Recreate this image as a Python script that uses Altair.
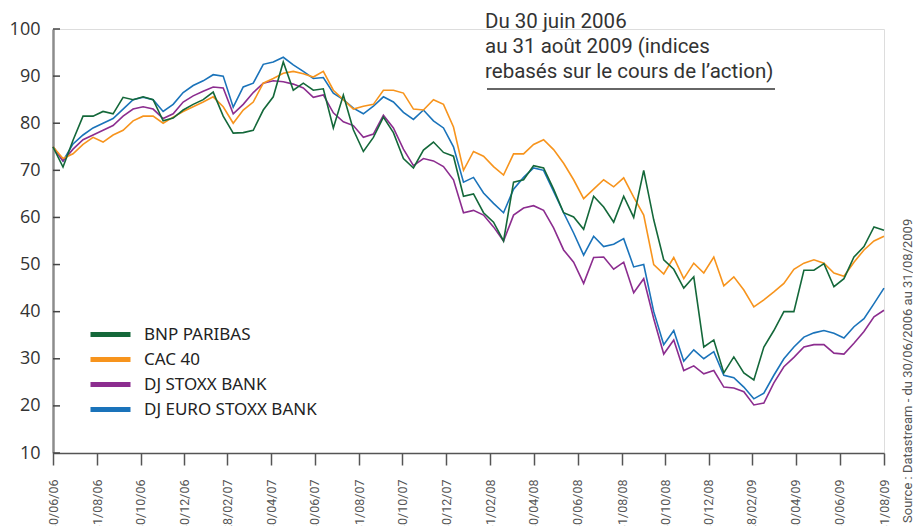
import altair as alt
import pandas as pd

series_names = ["BNP PARIBAS", "CAC 40", "DJ STOXX BANK", "DJ EURO STOXX BANK"]
series_colors = ["#14683a", "#f7941d", "#8c2d8f", "#1a73ba"]

bnp = [75, 70.7, 76.4, 81.5, 81.5, 82.5, 82, 85.5, 85, 85.6,
       85, 80.5, 81.1, 82.8, 84, 85, 86.6, 81.5, 77.9, 78,
       78.5, 82.8, 85.6, 93, 87, 88.5, 87, 87.3, 79, 86,
       78.6, 74, 77, 81.3, 78, 72.5, 70.5, 74.3, 76, 73.8,
       73, 64.5, 65, 61, 59, 55, 67.5, 68, 71, 70.5,
       66, 61, 60.1, 57.5, 64.5, 62.2, 59, 64.5, 60, 70,
       59.5, 51, 49, 45, 47.4, 32.5, 34, 27, 30.4, 27,
       25.5, 32.5, 36, 40, 40, 48.8, 48.8, 50.2, 45.3, 47,
       51.6, 53.8, 58, 57.3]
cac = [75, 72.5, 73.5, 75.5, 77, 76, 77.5, 78.5, 80.5, 81.5,
       81.5, 80, 81.3, 82.5, 83.5, 84.5, 85.6, 83.5, 80, 82.8,
       84.5, 88.5, 89.5, 90.6, 91, 90.5, 89.8, 91, 87, 85,
       83, 83.6, 84, 87, 87, 86.4, 83, 82.8, 85, 84,
       79.2, 70, 74, 73, 70.8, 69, 73.5, 73.5, 75.5, 76.5,
       74.4, 71.5, 68, 64, 66, 68, 66.5, 68.4, 64.3, 60.5,
       50, 48, 51.5, 47, 50.3, 48.2, 51.6, 45.5, 47.4, 44.6,
       41, 42.5, 44.2, 46, 49, 50.3, 51, 50.3, 48.2, 47.5,
       50.5, 53.1, 55, 56]
stoxx = [75, 72, 74.5, 76.5, 77.5, 78.5, 79.5, 81.5, 83, 83.5,
         83, 81, 82, 84.5, 85.8, 86.8, 87.7, 87.5, 82, 84,
         86.5, 88.5, 89, 88.8, 88.3, 87.5, 85.5, 86, 82.2, 80.3,
         79.5, 77, 77.7, 81.7, 79, 74.5, 71, 72.5, 72, 70.8,
         68, 61, 61.5, 60.5, 58, 55, 60.5, 62, 62.5, 61.5,
         57.8, 53.1, 50.5, 46, 51.5, 51.6, 49, 50.5, 44, 47,
         38.5, 31, 34, 27.5, 28.5, 26.8, 27.5, 24, 23.8, 23,
         20.2, 20.6, 24.9, 28.3, 30.3, 32.5, 33, 33, 31.2, 31,
         33.3, 35.8, 38.9, 40.3]
euro = [75, 72, 75.6, 77.5, 79, 80, 81, 83, 85, 85.5,
        85, 82.5, 84, 86.5, 88, 89, 90.3, 90, 83.4, 87.7,
        88.5, 92.5, 93, 94, 92.4, 91, 89.5, 89.7, 86.4, 85,
        83.2, 82, 83.6, 85.6, 84.5, 82.3, 80.8, 82.8, 80.5, 79,
        75, 67.5, 68.5, 65.2, 63, 61, 66, 68.5, 70.5, 70,
        65.5, 61, 56.7, 52, 56, 53.8, 54.3, 55.5, 49.5, 50,
        40, 33, 36, 29.5, 31.9, 30, 31.5, 26.5, 26, 24,
        21.5, 22.7, 26.5, 30, 32.5, 34.6, 35.5, 36, 35.4, 34.4,
        36.8, 38.5, 41.7, 45]

tick_labels = ["30/06/06", "31/08/06", "30/10/06", "30/12/06", "28/02/07",
               "30/04/07", "30/06/07", "31/08/07", "30/10/07", "30/12/07",
               "31/02/08", "30/04/08", "30/06/08", "31/08/08", "30/10/08",
               "30/12/08", "28/02/09", "30/04/09", "30/06/09", "31/08/09"]
tick_dates = ["2006-06-30", "2006-08-31", "2006-10-30", "2006-12-30", "2007-02-28",
              "2007-04-30", "2007-06-30", "2007-08-31", "2007-10-30", "2007-12-30",
              "2008-02-29", "2008-04-30", "2008-06-30", "2008-08-31", "2008-10-30",
              "2008-12-30", "2009-02-28", "2009-04-30", "2009-06-30", "2009-08-31"]
y_ticks = [10, 20, 30, 40, 50, 60, 70, 80, 90, 100]

note_lines = ["Du 30 juin 2006", "au 31 août 2009 (indices",
              "rebasés sur le cours de l\u2019action)"]
source_text = "Source : Datastream - du 30/06/2006 au 31/08/2009"

start, end = "2006-06-30", "2009-08-31"


def ms(d):
    return int(pd.Timestamp(d, tz="UTC").value // 10**6)


sample_ms = [int(v // 10**6) for v in
             pd.date_range(start, end, periods=len(bnp), tz="UTC").asi8]

rows = []
draw_order = [("DJ EURO STOXX BANK", euro), ("DJ STOXX BANK", stoxx),
              ("CAC 40", cac), ("BNP PARIBAS", bnp)]
for name, vals in draw_order:
    for t, v in zip(sample_ms, vals):
        rows.append({"t": t, "v": v, "serie": name})
df = pd.DataFrame(rows)

tick_ms = [ms(d) for d in tick_dates]
labels_js = "[" + ",".join("'%s'" % s for s in tick_labels) + "]"
vals_js = "[" + ",".join(str(v) for v in tick_ms) + "]"
label_expr = "%s[indexof(%s, +datum.value)]" % (labels_js, vals_js)

W, H = 831, 424

x_enc = alt.X("t:T", title=None,
              scale=alt.Scale(type="utc", domain=[ms(start), ms(end)], nice=False),
              axis=alt.Axis(values=tick_ms, labelExpr=label_expr, labelAngle=270,
                            labelFontSize=12.5, labelFont="Roboto",
                            labelColor="#555555", labelPadding=14, tickSize=12,
                            tickColor="#555555", tickWidth=1.5, domainColor="#555555",
                            domainWidth=1.5, grid=False, labelOverlap=False,
                            labelBound=False, labelFlush=False))
y_enc = alt.Y("v:Q", title=None,
              scale=alt.Scale(domain=[10, 100], nice=False, zero=False),
              axis=alt.Axis(values=y_ticks, labelFontSize=18, labelFont="Open Sans",
                            labelColor="#333333", tickSize=0, labelPadding=13,
                            domainColor="#8c8c8c", domainWidth=2.5, grid=False))

lines = alt.Chart(df).mark_line(strokeWidth=1.6).encode(
    x=x_enc,
    y=y_enc,
    color=alt.Color("serie:N",
                    scale=alt.Scale(domain=series_names, range=series_colors),
                    legend=alt.Legend(orient="none", legendX=49, legendY=297,
                                      title=None, symbolType="M-10,0H10",
                                      symbolSize=16, symbolStrokeWidth=5,
                                      labelFontSize=17, labelFont="Noto Sans",
                                      labelColor="#222222", labelOffset=25,
                                      labelLimit=400,
                                      rowPadding=4, padding=0)),
)

yticks = alt.Chart(pd.DataFrame({"v": y_ticks})).mark_rule(
    color="#444444", strokeWidth=1.5).encode(
    y=alt.Y("v:Q"), x=alt.value(0), x2=alt.value(7))

one = pd.DataFrame({"k": [0]})
note = alt.Chart(one).mark_text(
    text=note_lines, lineHeight=25, align="left", baseline="alphabetic",
    fontSize=20.5, font="Roboto", color="#333333").encode(
    x=alt.value(432), y=alt.value(-1))
underline = alt.Chart(one).mark_rule(color="#666666", strokeWidth=2).encode(
    x=alt.value(434), x2=alt.value(722), y=alt.value(60))
source = alt.Chart(one).mark_text(
    text=source_text, angle=270, align="left", baseline="alphabetic",
    fontSize=13, font="Roboto", color="#555555").encode(
    x=alt.value(859), y=alt.value(494))

chart = alt.layer(lines, yticks, note, underline, source).properties(
    width=W, height=H,
    autosize=alt.AutoSizeParams(type="none"),
    padding={"left": 53, "top": 29, "right": 29, "bottom": 73},
).configure_view(stroke=None).configure(background="white")

chart.save("out.html", embed_options={"renderer": "svg", "actions": False})
